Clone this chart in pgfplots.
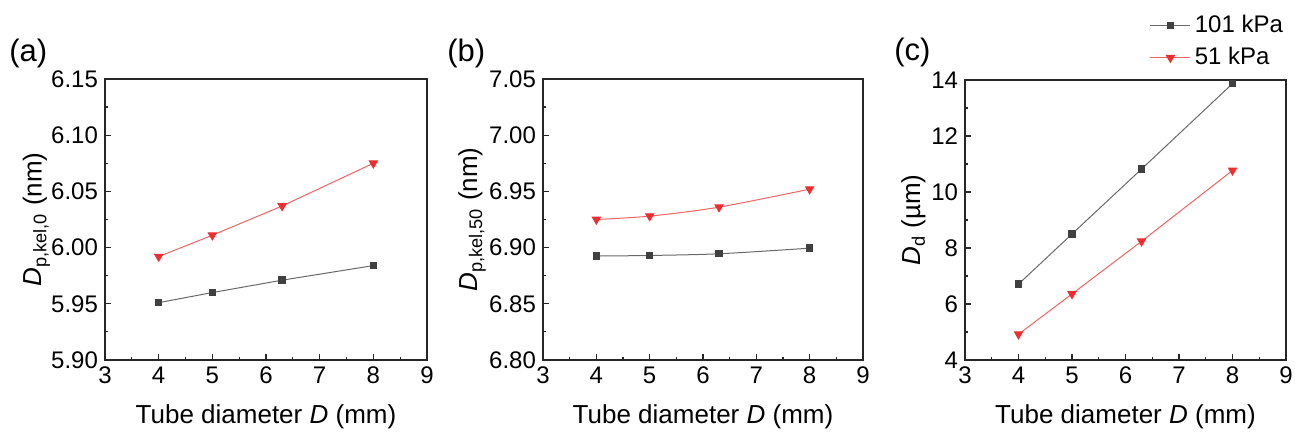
\documentclass[border=0pt]{standalone}
\usepackage{fontspec}
\setmainfont{Liberation Sans}
\usepackage{pgfplots}
\pgfplotsset{compat=1.18}

\definecolor{blk}{RGB}{64,64,64}
\definecolor{blkline}{RGB}{105,105,105}
\definecolor{rd}{RGB}{238,46,46}
\definecolor{rdline}{RGB}{242,100,100}

\pgfplotsset{
  panel/.style={
    scale only axis,
    anchor=south west,
    xmin=3, xmax=9, xtick={3,...,9}, minor x tick num=1, minor y tick num=1,
    tick align=inside, xtick pos=bottom, ytick pos=left,
    major tick length=3pt, minor tick length=1.6pt,
    axis line style={black!85, line width=0.6pt},
    every tick/.style={black!85, line width=0.6pt},
    /pgf/number format/assume math mode=true,
    tick label style={font=\fontsize{12pt}{14pt}\selectfont},
    xticklabel style={anchor=base, yshift=-12pt},
    label style={font=\fontsize{13pt}{15pt}\selectfont},
    xlabel={Tube diameter \textit{D} (mm)},
    xlabel style={at={(axis description cs:0.5,0)}, anchor=base, yshift=-31.5pt},
  },
  twodec/.style={yticklabel style={/pgf/number format/.cd, fixed, fixed zerofill, precision=2}},
  ser1/.style={blkline, line width=0.5pt, mark=square*, mark size=1.6pt,
    mark options={draw=blk, fill=blk}},
  ser2/.style={rdline, line width=0.5pt, mark=triangle*, mark size=2.3pt,
    mark options={draw=rd, fill=rd, rotate=180}},
}

\begin{document}
\begin{tikzpicture}
\useasboundingbox (0,0) rectangle (647.5pt,216.5pt);

% (a)
\begin{axis}[panel, twodec, at={(52.5pt,36.5pt)}, width=161pt, height=140.5pt,
  ymin=5.90, ymax=6.15, ytick={5.90,5.95,6.00,6.05,6.10,6.15},
  ylabel={\textit{D}\textsubscript{p,kel,0} (nm)},
  ylabel style={at={(axis description cs:-0.197,0.5)}, anchor=base}]
\addplot[ser1] coordinates {(4,5.951) (5,5.960) (6.3,5.971) (8,5.984)};
\addplot[ser2] coordinates {(4,5.992) (5,6.011) (6.3,6.037) (8,6.075)};
\end{axis}

% (b)
\begin{axis}[panel, twodec, at={(271.5pt,36.5pt)}, width=160pt, height=140.5pt,
  ymin=6.80, ymax=7.05, ytick={6.80,6.85,6.90,6.95,7.00,7.05},
  ylabel={\textit{D}\textsubscript{p,kel,50} (nm)},
  ylabel style={at={(axis description cs:-0.206,0.5)}, anchor=base}]
\addplot[ser1, smooth] coordinates {(4,6.8925) (5,6.893) (6.3,6.8945) (8,6.8995)};
\addplot[ser2, smooth] coordinates {(4,6.925) (5,6.928) (6.3,6.936) (8,6.952)};
\end{axis}

% (c)
\begin{axis}[panel, at={(482.5pt,36.5pt)}, width=160.5pt, height=140pt,
  ymin=4, ymax=14, ytick={4,6,...,14},
  ylabel={\textit{D}\textsubscript{d} (µm)},
  ylabel style={at={(axis description cs:-0.140,0.5)}, anchor=base},
  legend cell align=left,
  legend image code/.code={
    \draw[mark repeat=2, mark phase=2, #1] plot coordinates {(0pt,0pt) (10pt,0pt) (20pt,0pt)};
  },
  legend style={draw=none, fill=none, inner sep=0pt, outer sep=0pt,
    at={(axis description cs:0.5760,1.245)}, anchor=north west,
    row sep=2.0pt, font=\fontsize{12pt}{14pt}\selectfont,
    nodes={inner sep=2pt, text height=8.6pt, text depth=0.15em}}]
\addplot[ser1] coordinates {(4,6.71) (5,8.50) (6.3,10.82) (8,13.87)};
\addlegendentry{101 kPa}
\addplot[ser2] coordinates {(4,4.92) (5,6.36) (6.3,8.24) (8,10.77)};
\addlegendentry{51 kPa}
\end{axis}

\node[anchor=base west, inner sep=0pt, font=\fontsize{15.5pt}{18pt}\selectfont] at (4.5pt,185.5pt) {(a)};
\node[anchor=base west, inner sep=0pt, font=\fontsize{15.5pt}{18pt}\selectfont] at (223.5pt,185.5pt) {(b)};
\node[anchor=base west, inner sep=0pt, font=\fontsize{15.5pt}{18pt}\selectfont] at (447pt,186pt) {(c)};
\end{tikzpicture}
\end{document}
